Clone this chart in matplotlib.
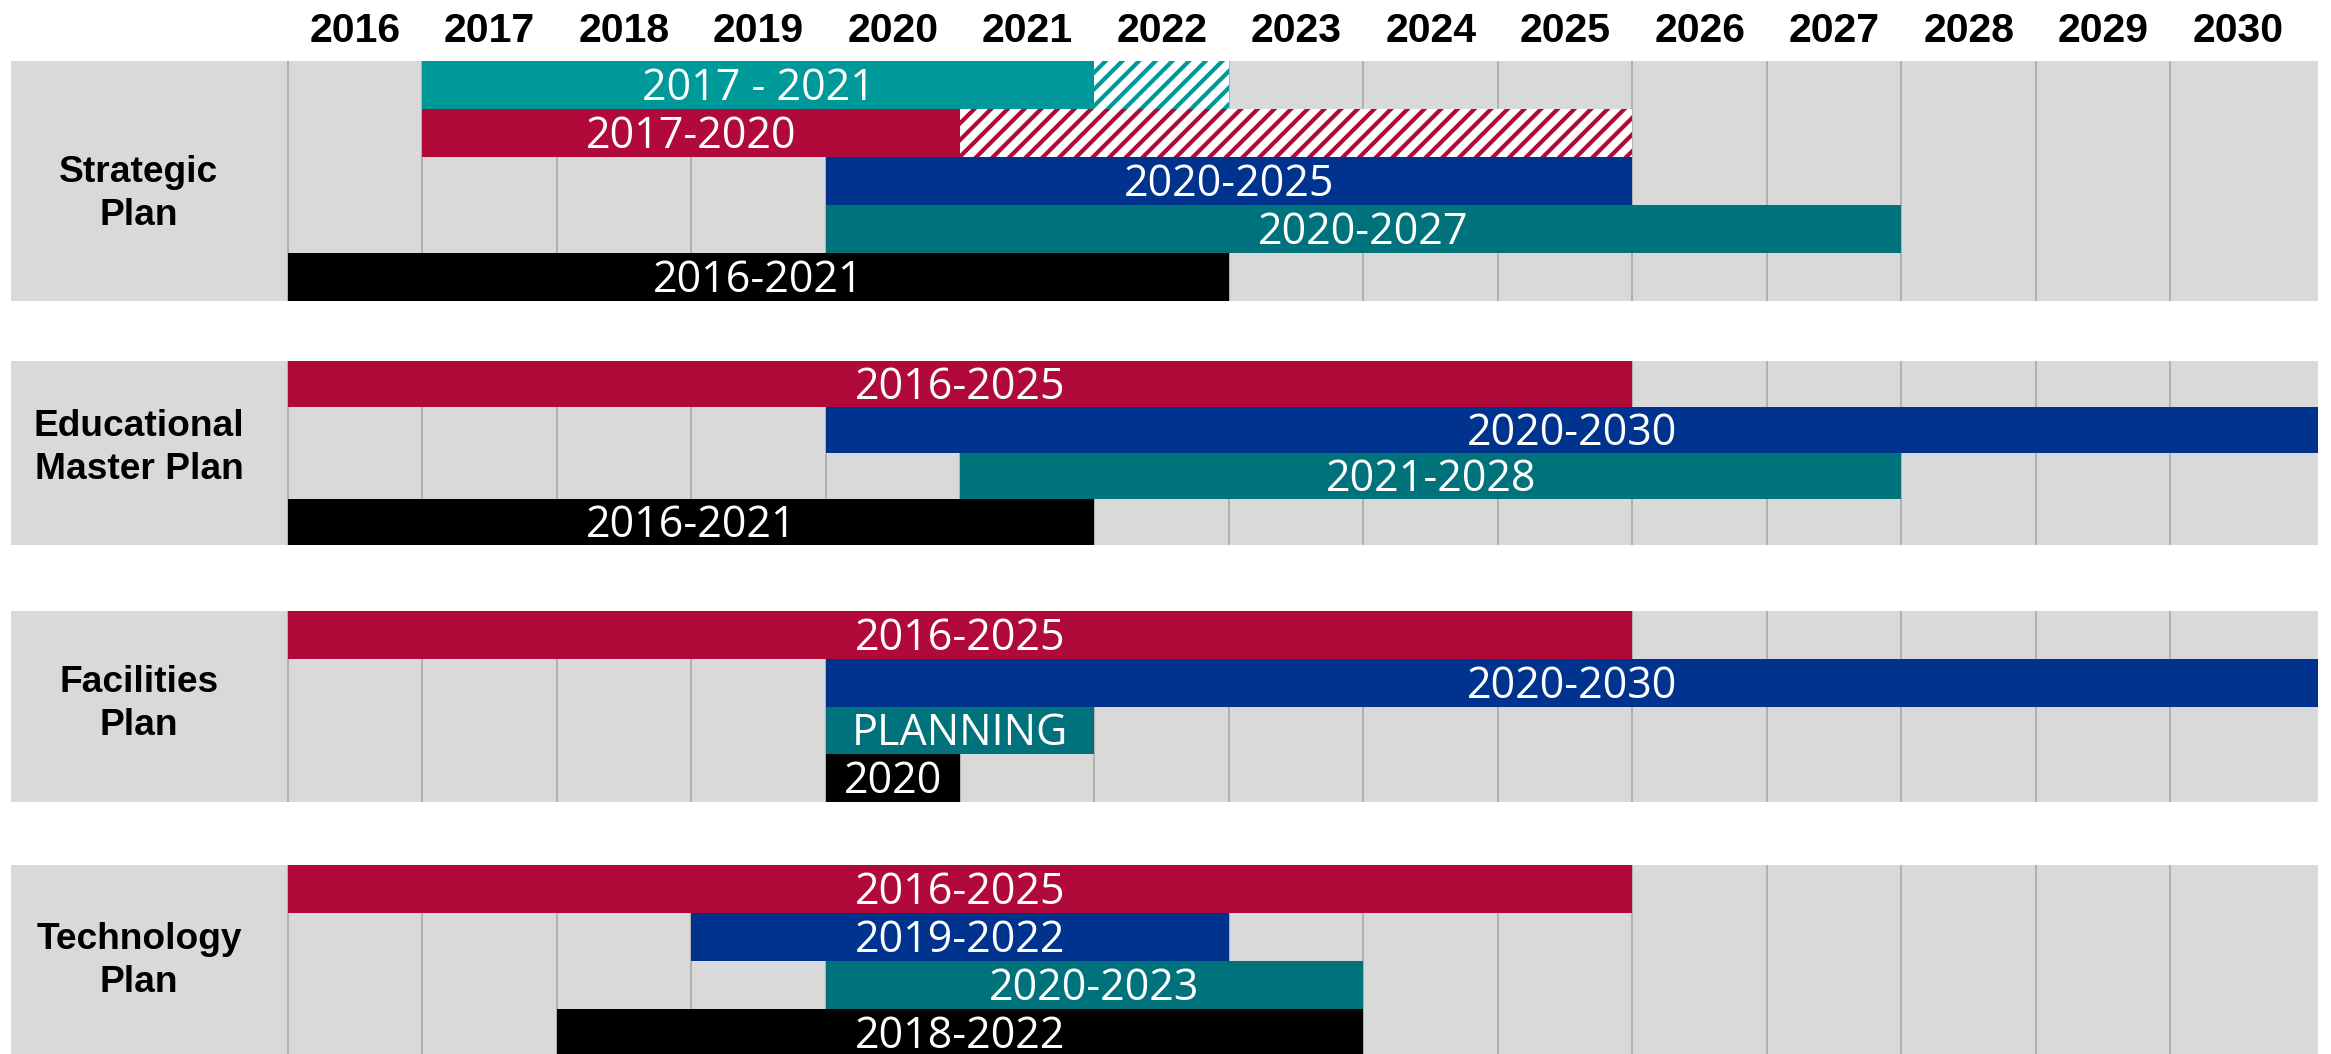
import matplotlib
matplotlib.use('Agg')
from matplotlib import pyplot as plt
import numpy as np

# years shown on the header
years = list(range(2016, 2031))

# plan groups (label, rows)
group_labels = ['Strategic\nPlan', 'Educational\nMaster Plan',
                'Facilities\nPlan', 'Technology\nPlan']

# Strategic plan rows
strategic_start = [2017, 2017, 2020, 2020, 2016]
strategic_end = [2022, 2021, 2026, 2028, 2023]
strategic_hatch_end = [2023, 2026, None, None, None]
strategic_text = ['2017 - 2021', '2017-2020', '2020-2025', '2020-2027', '2016-2021']

# Educational master plan rows
edu_start = [2016, 2020, 2021, 2016]
edu_end = [2026, 2031.1, 2028, 2022]
edu_text = ['2016-2025', '2020-2030', '2021-2028', '2016-2021']

# Facilities plan rows
fac_start = [2016, 2020, 2020, 2020]
fac_end = [2026, 2031.1, 2022, 2021]
fac_text = ['2016-2025', '2020-2030', 'PLANNING', '2020']

# Technology plan rows
tech_start = [2016, 2019, 2020, 2018]
tech_end = [2026, 2023, 2024, 2024]
tech_text = ['2016-2025', '2019-2022', '2020-2023', '2018-2022']

TEAL = '#009999'
RED = '#B0093A'
BLUE = '#00338E'
DTEAL = '#00727C'
BLACK = '#000000'
GRAY = '#D9D9D9'

strategic_colors = [TEAL, RED, BLUE, DTEAL, BLACK]
other_colors = [RED, BLUE, DTEAL, BLACK]

# layout in pixel units (y down): panel top, panel bottom, label centre
panels = [(61, 301, 194), (361, 545, 448), (611, 802, 704), (865, 1057, 961)]

plt.rcParams['hatch.linewidth'] = 3.0

fig = plt.figure(figsize=(23.31, 10.54), dpi=100)
ax = fig.add_axes([0, 0, 1, 1])
px_year = 134.5
x_left = 2016 - 287.5 / px_year
x_right = 2016 + (2331 - 287.5) / px_year
ax.set_xlim(x_left, x_right)
ax.set_ylim(1054, 0)
ax.axis('off')

label_left = 2016 - 276.5 / px_year
panel_right = 2031.1

groups = [
    (strategic_start, strategic_end, strategic_hatch_end, strategic_text, strategic_colors),
    (edu_start, edu_end, [None] * 4, edu_text, other_colors),
    (fac_start, fac_end, [None] * 4, fac_text, other_colors),
    (tech_start, tech_end, [None] * 4, tech_text, other_colors),
]

for (top, bottom, lab_y), label, (starts, ends, hatch_ends, texts, colors) in zip(
        panels, group_labels, groups):
    # gray background panel
    ax.barh((top + bottom) / 2, panel_right - label_left, left=label_left,
            height=bottom - top, color=GRAY, zorder=0)
    ax.vlines(years, top, bottom, color='#A6A6A6', lw=1.1, zorder=1)
    ax.text(2016 - (287.5 - 139) / px_year, lab_y, label, ha='center', va='center',
            fontsize=26.7, fontweight='bold', family='Liberation Sans',
            linespacing=1.32, zorder=3)

    n = len(starts)
    row_h = (bottom - top) / n
    centers = top + row_h * (np.arange(n) + 0.5)
    ax.barh(centers, np.array(ends) - np.array(starts), left=starts,
            height=row_h, color=colors, linewidth=0, zorder=2)
    for c, s, e, he, t, col in zip(centers, starts, ends, hatch_ends, texts, colors):
        if he is not None:
            ax.barh(c, he - e, left=e, height=row_h, color='white',
                    edgecolor=col, hatch='//', linewidth=0, zorder=2)
        ax.text((s + e) / 2, c + 15, t, ha='center', va='baseline',
                color='white', fontsize=31, family='Open Sans', zorder=3)

for y in years:
    ax.text(y + 0.5, 42, str(y), ha='center', va='baseline', fontsize=29.5,
            fontweight='bold', family='Liberation Sans')

fig.savefig('out.png', dpi=100)
